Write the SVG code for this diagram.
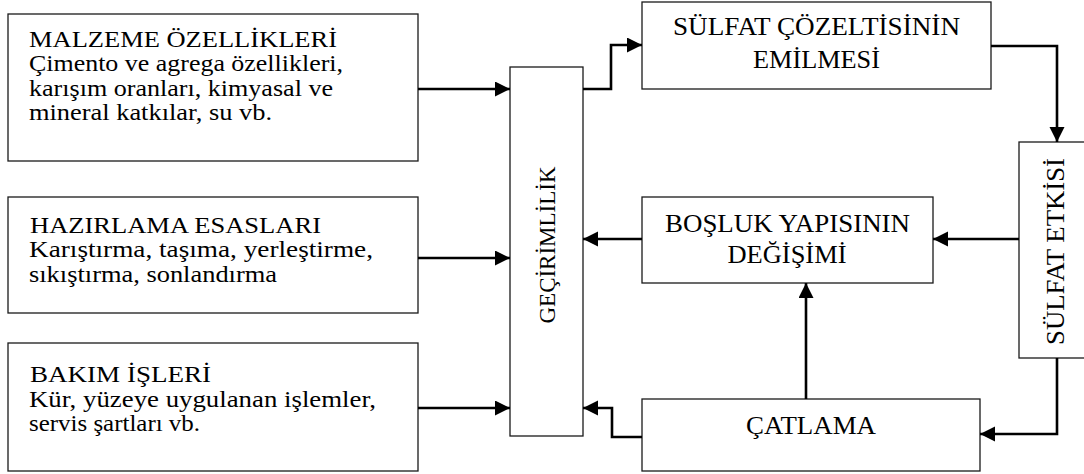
<svg xmlns="http://www.w3.org/2000/svg" width="1084" height="474" viewBox="0 0 1084 474">
<style>
.box{fill:#fff;stroke:#1a1a1a;stroke-width:1.3}
.t{font-family:"Liberation Serif","Times New Roman",serif;font-size:26px;fill:#000}
.s{font-size:23px}
.c{text-anchor:middle}
.ln{fill:none;stroke:#000;stroke-width:2.6}
</style>
<defs>
<marker id="ah" markerUnits="userSpaceOnUse" markerWidth="16" markerHeight="16" refX="15" refY="7.5" orient="auto">
<path d="M0,0 L15,7.5 L0,15 z" fill="#000"/>
</marker>
</defs>
<rect width="1084" height="474" fill="#fff"/>
<g id="malzeme">
<rect class="box" x="8" y="14" width="410" height="147"/>
<text class="t s" x="29" y="46.5" textLength="308" lengthAdjust="spacingAndGlyphs">MALZEME ÖZELLİKLERİ</text>
<text class="t s" x="29" y="71" textLength="314" lengthAdjust="spacingAndGlyphs">Çimento ve agrega özellikleri,</text>
<text class="t s" x="29" y="95.5" textLength="304" lengthAdjust="spacingAndGlyphs">karışım oranları, kimyasal ve</text>
<text class="t s" x="29" y="120" textLength="243" lengthAdjust="spacingAndGlyphs">mineral katkılar, su vb.</text>
</g>
<g id="hazirlama">
<rect class="box" x="8" y="197" width="410" height="116"/>
<text class="t s" x="30" y="232.5" textLength="291" lengthAdjust="spacingAndGlyphs">HAZIRLAMA ESASLARI</text>
<text class="t s" x="29" y="257" textLength="344" lengthAdjust="spacingAndGlyphs">Karıştırma, taşıma, yerleştirme,</text>
<text class="t s" x="29" y="281.5" textLength="248" lengthAdjust="spacingAndGlyphs">sıkıştırma, sonlandırma</text>
</g>
<g id="bakim">
<rect class="box" x="8" y="343" width="410" height="128"/>
<text class="t s" x="30" y="381.5" textLength="181" lengthAdjust="spacingAndGlyphs">BAKIM İŞLERİ</text>
<text class="t s" x="29" y="406.5" textLength="347" lengthAdjust="spacingAndGlyphs">Kür, yüzeye uygulanan işlemler,</text>
<text class="t s" x="29" y="430.5" textLength="171" lengthAdjust="spacingAndGlyphs">servis şartları vb.</text>
</g>
<g id="gecirimlilik">
<rect class="box" x="510" y="67" width="73" height="369"/>
<text class="t c" transform="translate(555,245) rotate(-90)" style="font-size:24px" textLength="157" lengthAdjust="spacingAndGlyphs">GEÇİRİMLİLİK</text>
</g>
<g id="sulfat-cozeltisi">
<rect class="box" x="642" y="2" width="349" height="87"/>
<text class="t c" x="816.5" y="35" textLength="287" lengthAdjust="spacingAndGlyphs">SÜLFAT ÇÖZELTİSİNİN</text>
<text class="t c" x="816.5" y="68" textLength="127" lengthAdjust="spacingAndGlyphs">EMİLMESİ</text>
</g>
<g id="sulfat-etkisi">
<rect class="box" x="1019" y="142" width="76" height="216"/>
<text class="t c" transform="translate(1064,251.5) rotate(-90)" textLength="187" lengthAdjust="spacingAndGlyphs">SÜLFAT ETKİSİ</text>
</g>
<g id="bosluk">
<rect class="box" x="642" y="197" width="291" height="86"/>
<text class="t c" x="787.5" y="231.5" textLength="245" lengthAdjust="spacingAndGlyphs">BOŞLUK YAPISININ</text>
<text class="t c" x="787" y="263" textLength="119" lengthAdjust="spacingAndGlyphs">DEĞİŞİMİ</text>
</g>
<g id="catlama">
<rect class="box" x="642" y="399" width="338" height="72"/>
<text class="t c" x="811" y="434" textLength="130" lengthAdjust="spacingAndGlyphs">ÇATLAMA</text>
</g>
<g id="connectors">
<path class="ln" marker-end="url(#ah)" d="M418,89 H510"/>
<path class="ln" marker-end="url(#ah)" d="M418,258 H510"/>
<path class="ln" marker-end="url(#ah)" d="M418,408 H510"/>
<path class="ln" marker-end="url(#ah)" d="M583,89 H611 V45 H642"/>
<path class="ln" marker-end="url(#ah)" d="M991,46 H1057 V142"/>
<path class="ln" marker-end="url(#ah)" d="M1019,239 H933"/>
<path class="ln" marker-end="url(#ah)" d="M1057,358 V434 H980"/>
<path class="ln" marker-end="url(#ah)" d="M642,239 H583"/>
<path class="ln" marker-end="url(#ah)" d="M806,399 V283"/>
<path class="ln" marker-end="url(#ah)" d="M642,437 H612 V408 H583"/>
</g>
</svg>
